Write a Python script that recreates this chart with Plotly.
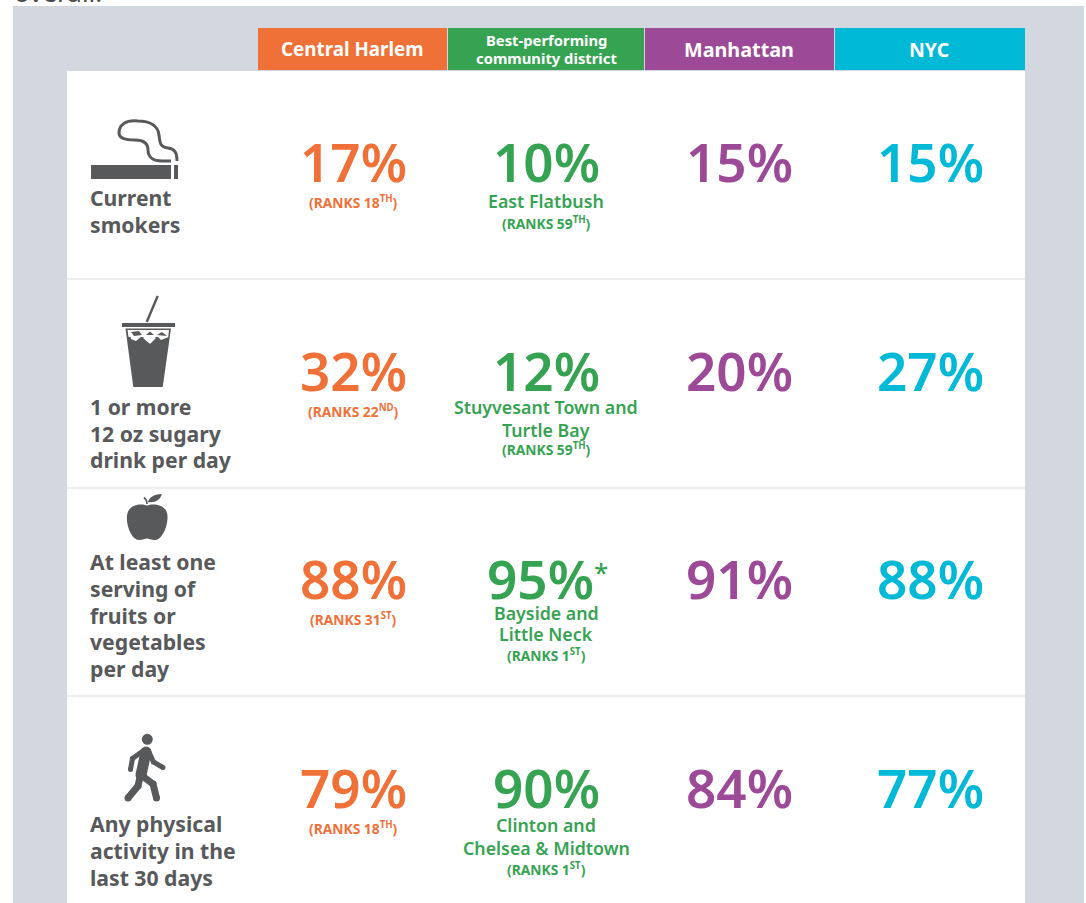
import plotly.graph_objects as go

# ---- data ----
columns = ["Central Harlem", "Best-performing<br>community district", "Manhattan", "NYC"]
row_labels = [
    ["Current", "smokers"],
    ["1 or more", "12 oz sugary", "drink per day"],
    ["At least one", "serving of", "fruits or", "vegetables", "per day"],
    ["Any physical", "activity in the", "last 30 days"],
]
central_harlem = [17, 32, 88, 79]
best_district = [10, 12, 95, 90]
manhattan = [15, 20, 91, 84]
nyc = [15, 27, 88, 77]
harlem_ranks = ["18<sup>TH</sup>", "22<sup>ND</sup>", "31<sup>ST</sup>", "18<sup>TH</sup>"]
best_ranks = ["59<sup>TH</sup>", "59<sup>TH</sup>", "1<sup>ST</sup>", "1<sup>ST</sup>"]
best_names = [
    ["East Flatbush"],
    ["Stuyvesant Town and", "Turtle Bay"],
    ["Bayside and", "Little Neck"],
    ["Clinton and", "Chelsea &amp; Midtown"],
]

# ---- layout / style ----
W, H = 1086, 903
FONT = "Noto Sans"
GREY = "#58595b"
ORANGE, GREEN, PURPLE, CYAN = "#f07138", "#36a352", "#9c4997", "#00b9d6"
col_colors = [ORANGE, GREEN, PURPLE, CYAN]
col_edges = [(258, 447), (448, 644), (645, 834), (835, 1025)]
col_centers = [353, 546, 739, 930]
row_y = [161, 370, 578, 787]

fig = go.Figure()
shapes = []
def rect(x0, y0, x1, y1, color):
    shapes.append(dict(type="rect", x0=x0, y0=y0, x1=x1, y1=y1, fillcolor=color,
                       line_width=0, layer="below"))
def dot(x, y, r, color=GREY):
    shapes.append(dict(type="circle", x0=x - r, y0=y - r, x1=x + r, y1=y + r, fillcolor=color,
                       line_width=0, layer="below"))
def path(d, fill=None, stroke=None, width=0):
    s = dict(type="path", path=d, layer="below")
    s["fillcolor"] = fill if fill else "rgba(0,0,0,0)"
    s["line"] = dict(color=stroke if stroke else "rgba(0,0,0,0)", width=width)
    shapes.append(s)
def limb(points, width):
    path("M " + " L ".join(f"{x},{y}" for x, y in points), stroke=GREY, width=width)
    for x, y in points:
        dot(x, y, width / 2)

rect(13, 6, 1084, H, "#d3d7df")
rect(67, 71, 1025, H, "#ffffff")
for (a, b), c in zip(col_edges, col_colors):
    rect(a, 28, b, 70, c)
for y in (279, 488, 696):
    rect(67, y - 0.5, 1025, y + 0.5, "#dcdcdc")

# cigarette icon
rect(91, 165, 171, 179, GREY)
rect(174, 165, 178, 179, GREY)
path("M 177,161 C 177,153 175,149 168,148 C 160,147 160,143 159,135 C 158,126 150,121 138,121 "
     "C 125,120 119,125 119,133 C 119,138 125,140 135,140 C 145,140 148,144 148,150 "
     "C 148,157 153,161 162,161 L 171,161", stroke=GREY, width=3)
# cup icon
path("M 146.7,322 L 157.7,296", stroke=GREY, width=2.4)
rect(122, 323, 175, 327, GREY)
path("M 125.5,328.5 L 171,328.5 L 162.7,387 L 133.3,387 Z", fill=GREY)
path("M 127.5,330 L 169,330 L 168.2,337 L 128.5,337 Z", fill="#ffffff")
path("M 130,334 L 137,331.5 L 142,336 L 136,341 L 131,339 Z", fill="#ffffff")
path("M 143,338 L 149,333 L 156,338 L 150,344 Z", fill="#ffffff")
path("M 157,336 L 163,332 L 168.5,337 L 161,340 Z", fill="#ffffff")
path("M 131,332 L 139,331 L 142,335 L 134,336 Z", fill=GREY)
path("M 146,335 L 150,331.5 L 154,335 Z", fill=GREY)
path("M 157,335 L 162,332 L 167,336 Z", fill=GREY)
# apple icon
path("M 147,505.5 C 141,503 128,504 127,516 C 126,526 132,540 139,540 C 143,540 145,538.5 147,538.5 "
     "C 149,538.5 151,540 155,540 C 162,540 168,526 167.5,516 C 167,504 153,503 147,505.5 Z", fill=GREY)
path("M 147,504 C 147,501 146,499 144,497.5", stroke=GREY, width=1.6)
path("M 148,502 C 149,497 155,494 162,494 C 160,500 155,503 148,502 Z", fill=GREY)
# walker icon
dot(147.3, 739.3, 5.5)
limb([(146, 752), (141, 775)], 11)
limb([(143, 751), (132.5, 758.5), (130.5, 769.5)], 5)
limb([(148.5, 751), (153.5, 762), (163, 767.5)], 5)
limb([(140.5, 775), (138, 786), (128, 798)], 7)
limb([(141, 775), (153, 784), (156.5, 798)], 7)

annotations = []
def txt(x, y, s, size, color, weight=700, anchor="center"):
    annotations.append(dict(x=x, y=y, text=s, showarrow=False, xanchor=anchor, yanchor="middle",
                            font=dict(family=FONT, size=size, color=color, weight=weight)))

# cut-off sentence end above the panel
annotations.append(dict(x=12, y=12, text="overall.", showarrow=False, xanchor="left", yanchor="bottom",
                        font=dict(family=FONT, size=26, color="#4a4a4a")))

# headers
txt(352, 49, columns[0], 18.8, "#ffffff")
txt(546, 40, columns[1].split("<br>")[0], 14.8, "#ffffff")
txt(546, 58, columns[1].split("<br>")[1], 14.8, "#ffffff")
txt(739, 49, columns[2], 19.8, "#ffffff")
txt(929, 49, columns[3], 19.5, "#ffffff")

# row labels
label_y = [[197, 224], [406, 433, 459], [561, 588, 615, 641, 668], [823, 850, 877]]
for lines, ys in zip(row_labels, label_y):
    for s, y in zip(lines, ys):
        txt(88, y, s, 21.2, GREY, anchor="left")

# big percentages
for vals, xc, c in zip([central_harlem, best_district, manhattan, nyc], col_centers, col_colors):
    for i, (v, y) in enumerate(zip(vals, row_y)):
        x = 540 if (vals is best_district and i == 2) else xc
        txt(x, y, f"{v}%", 53, c, weight=600)
txt(600.5, 572, "*", 26, GREEN, weight=500)

# ranks and district names
for s, y in zip(harlem_ranks, [202, 411, 619, 828]):
    txt(353, y, f"(RANKS {s})", 13.8, ORANGE)
name_y = [[201], [407, 430], [613, 634], [825, 848]]
best_rank_y = [223, 449, 655, 869]
for lines, ys, r, ry in zip(best_names, name_y, best_ranks, best_rank_y):
    for s, y in zip(lines, ys):
        txt(546, y, s, 17.8, GREEN, weight=600)
    txt(546, ry, f"(RANKS {r})", 13.8, GREEN)

fig.update_layout(
    width=W, height=H, margin=dict(l=0, r=0, t=0, b=0),
    paper_bgcolor="#ffffff", plot_bgcolor="#ffffff",
    xaxis=dict(range=[0, W], visible=False, fixedrange=True),
    yaxis=dict(range=[H, 0], visible=False, fixedrange=True),
    shapes=shapes, annotations=annotations, showlegend=False,
)
fig.write_html("out.html", post_script="document.body.style.margin='0';document.body.style.overflow='hidden';",
               config={"displayModeBar": False})
